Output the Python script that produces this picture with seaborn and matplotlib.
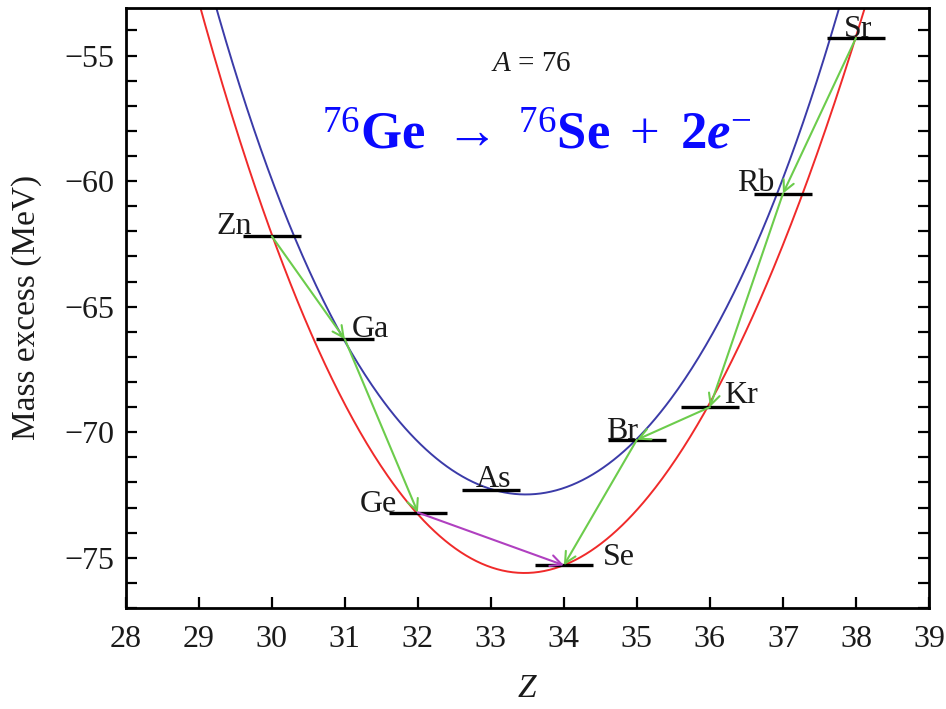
import numpy as np
import pandas as pd
import matplotlib
matplotlib.use("Agg")
import matplotlib.pyplot as plt
import seaborn as sns

# A = 76 isobars: mass excess (MeV)
elements = ['Zn', 'Ga', 'Ge', 'As', 'Se', 'Br', 'Kr', 'Rb', 'Sr']
z_values = [30, 31, 32, 33, 34, 35, 36, 37, 38]
mass_excess = [-62.2, -66.3, -73.2, -72.3, -75.3, -70.3, -69.0, -60.5, -54.3]

# points sampled along the two mass parabolas (even-even in red, odd-odd in blue)
red_z = [29.03, 29.38, 30.0, 30.57, 30.95, 31.48, 31.98, 33.53, 33.97, 35.04, 35.99, 37.24, 37.71, 38.01]
red_m = [-53.1, -56.8, -62.1, -66.3, -68.7, -71.2, -73.2, -75.5, -75.3, -73.1, -69.0, -60.5, -56.8, -54.3]
blue_z = [29.22, 29.63, 30.36, 30.98, 31.45, 32.78, 33.4, 34.97, 35.41, 37.0, 37.42, 37.71]
blue_m = [-53.1, -56.8, -62.1, -66.3, -68.7, -72.3, -72.5, -70.3, -68.3, -60.5, -56.8, -53.1]

# decay chain: single beta (green) and double beta (magenta)
beta_steps = [('Zn', 'Ga'), ('Ga', 'Ge'), ('Sr', 'Rb'), ('Rb', 'Kr'), ('Kr', 'Br'), ('Br', 'Se')]
double_beta = [('Ge', 'Se')]

nuclides = pd.DataFrame({'element': elements, 'Z': z_values, 'mass': mass_excess}).set_index('element')

sns.set_style("ticks")
plt.rcParams['font.family'] = ['Liberation Serif', 'DejaVu Serif']
plt.rcParams['mathtext.fontset'] = 'custom'
plt.rcParams['mathtext.rm'] = 'Liberation Serif'
plt.rcParams['mathtext.it'] = 'Liberation Serif:italic'
plt.rcParams['mathtext.bf'] = 'Liberation Serif:bold'
plt.rcParams['mathtext.bfit'] = 'Liberation Serif:bold:italic'

fig = plt.figure(figsize=(9.46, 7.09), dpi=100)
ax = fig.add_axes([0.133, 0.1425, 0.849, 0.8465])

# smooth curves fitted to the sampled points
z_grid = np.linspace(28.8, 38.3, 400)
curves = []
for name, zs, ms in [('even', red_z, red_m), ('odd', blue_z, blue_m)]:
    coef = np.polyfit(zs, ms, 4)
    curves.append(pd.DataFrame({'Z': z_grid, 'mass': np.polyval(coef, z_grid), 'kind': name}))
curves = pd.concat(curves)
sns.lineplot(data=curves, x='Z', y='mass', hue='kind',
             palette={'even': '#f02a2a', 'odd': '#3b3ba8'},
             linewidth=1.4, legend=False, ax=ax, sort=False)

# level bars
ax.hlines(nuclides['mass'], nuclides['Z'] - 0.4, nuclides['Z'] + 0.4,
          colors='black', linewidth=2.4, zorder=4)

# arrows
for steps, color in [(beta_steps, '#6ccc4c'), (double_beta, '#b040c0')]:
    for a, b in steps:
        ax.annotate('', xy=(nuclides.loc[b, 'Z'], nuclides.loc[b, 'mass']),
                    xytext=(nuclides.loc[a, 'Z'], nuclides.loc[a, 'mass']),
                    arrowprops=dict(arrowstyle='->', color=color, lw=1.5,
                                    shrinkA=0, shrinkB=0, mutation_scale=20),
                    zorder=5)

# element labels: (dx, dy, ha)
label_pos = {
    'Zn': (-0.27, 0.1, 'right'), 'Ga': (0.09, 0.1, 'left'),
    'Ge': (-0.29, 0.03, 'right'), 'As': (0.04, 0.12, 'center'),
    'Se': (0.53, 0.0, 'left'), 'Br': (0.02, 0.03, 'right'),
    'Kr': (0.2, 0.15, 'left'), 'Rb': (-0.12, 0.1, 'right'),
    'Sr': (0.03, 0.05, 'center'),
}
for el, row in nuclides.iterrows():
    dx, dy, ha = label_pos[el]
    ax.text(row['Z'] + dx, row['mass'] + dy, el, ha=ha, va='baseline',
            fontsize=23, color='#1a1a1a', zorder=6)

ax.text(33.55, -55.6, '$A$ = 76', ha='center', va='baseline', fontsize=21, color='#1a1a1a')
ax.text(33.62, -58.2,
        r'$^{76}\mathbf{Ge}\ \rightarrow\ ^{76}\mathbf{Se}\ +\ \mathbf{2}\mathbfit{e}^{-}$',
        ha='center', va='center', fontsize=38, color='#0a0aff')

ax.set_xlim(28, 39)
ax.set_ylim(-77, -53.1)
ax.set_xticks(range(28, 40))
ax.set_yticks([-75, -70, -65, -60, -55])
ax.set_yticks(np.arange(-77, -53), minor=True)
ax.set_yticklabels(['\u221275', '\u221270', '\u221265', '\u221260', '\u221255'])
ax.tick_params(axis='both', which='both', direction='in', labelsize=23, color='black',
               labelcolor='#1a1a1a', width=1.6)
ax.tick_params(axis='y', which='both', right=True, length=8)
ax.tick_params(axis='x', which='major', length=8, pad=12)
ax.tick_params(axis='y', which='major', pad=8)
ax.set_xlabel('$Z$', fontsize=24, color='#1a1a1a', labelpad=14)
ax.set_ylabel('Mass excess (MeV)', fontsize=24, color='#1a1a1a', labelpad=16)
for s in ax.spines.values():
    s.set_visible(True)
    s.set_linewidth(2)
    s.set_color('black')

fig.savefig('out.png', dpi=100)
